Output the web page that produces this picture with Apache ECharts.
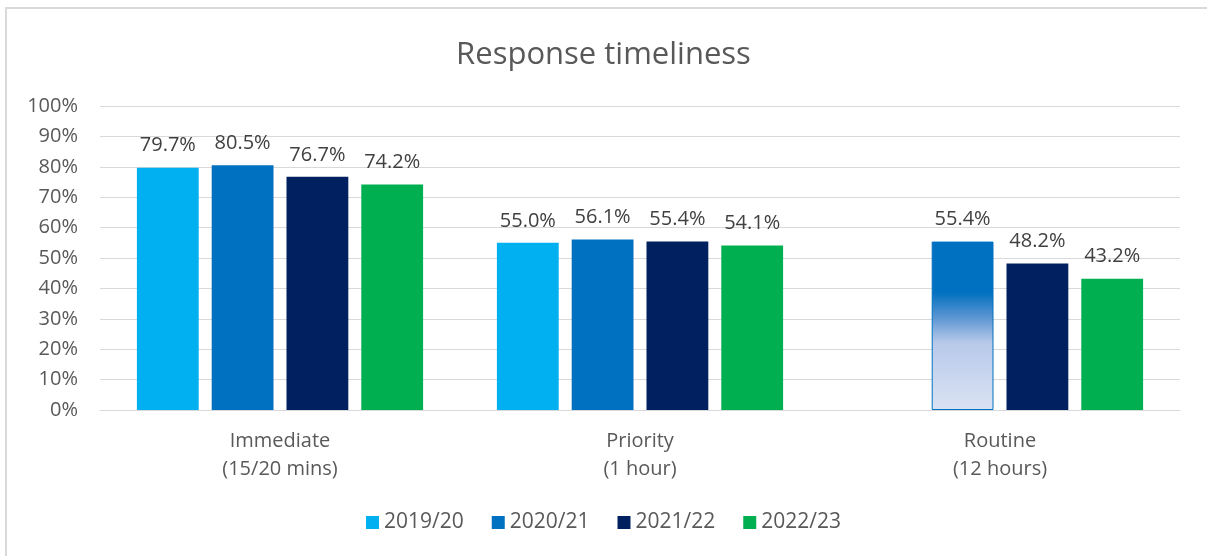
<!DOCTYPE html>
<html>
<head>
<meta charset="utf-8">
<script src="https://cdn.jsdelivr.net/npm/echarts@6/dist/echarts.min.js"></script>
<style>
  html, body { margin: 0; padding: 0; background: #fff; }
  #chart { width: 1207px; height: 556px; }
</style>
</head>
<body>
<div id="chart"></div>
<script>
var categories = ['Immediate\n(15/20 mins)', 'Priority\n(1 hour)', 'Routine\n(12 hours)'];
var years = ['2019/20', '2020/21', '2021/22', '2022/23'];
var colors = ['#00B0F0', '#0070C0', '#002060', '#00B050'];
var v2019 = [79.7, 55.0, null];
var v2020 = [80.5, 56.1, 55.4];
var v2021 = [76.7, 55.4, 48.2];
var v2022 = [74.2, 54.1, 43.2];

var chart = echarts.init(document.getElementById('chart'));
var font = 'Open Sans';

// Routine 2020/21 bar is drawn with a fade to white in the original
function withFade(arr) {
    return arr.map(function (v, i) {
        if (i !== 2) return v;
        return {
            value: v,
            itemStyle: {
                color: new echarts.graphic.LinearGradient(0, 0, 0, 1, [
                    { offset: 0, color: '#0070C0' },
                    { offset: 0.3, color: '#0070C0' },
                    { offset: 0.45, color: '#5B95D2' },
                    { offset: 0.6, color: '#B8C9EA' },
                    { offset: 1, color: '#DAE3F3' }
                ]),
                borderColor: '#0070C0',
                borderWidth: 1
            }
        };
    });
}

var seriesData = [v2019, withFade(v2020), v2021, v2022];

var series = years.map(function (y, i) {
    return {
        name: y,
        type: 'bar',
        data: seriesData[i],
        barGap: '21%',
        barCategoryGap: '20.5%',
        itemStyle: { color: colors[i] },
        label: {
            show: true,
            position: 'top',
            distance: 12,
            color: '#404040',
            fontFamily: font,
            fontSize: 20,
            formatter: function (p) { return p.value == null ? '' : p.value.toFixed(1) + '%'; }
        }
    };
});

var option = {
    backgroundColor: '#fff',
    animation: false,
    color: colors,
    title: {
        text: 'Response timeliness',
        left: 'center',
        top: 35,
        textStyle: { color: '#595959', fontFamily: font, fontSize: 31, fontWeight: 'normal' }
    },
    legend: {
        bottom: 18,
        left: 'center',
        itemWidth: 13,
        itemHeight: 13,
        itemGap: 28,
        icon: 'rect',
        textStyle: { color: '#595959', fontFamily: font, fontSize: 21 },
        data: years
    },
    grid: { left: 100, right: 27, top: 106, bottom: 146, containLabel: false },
    xAxis: {
        type: 'category',
        data: categories,
        axisLine: { lineStyle: { color: '#D9D9D9', width: 1 } },
        axisTick: { show: false },
        axisLabel: { color: '#595959', fontFamily: font, fontSize: 20, lineHeight: 28, margin: 17 }
    },
    yAxis: {
        type: 'value',
        min: 0,
        max: 100,
        interval: 10,
        axisLine: { show: false },
        axisTick: { show: false },
        splitLine: { lineStyle: { color: '#D9D9D9', width: 1 } },
        axisLabel: { color: '#595959', fontFamily: font, fontSize: 20, margin: 22, formatter: '{value}%' }
    },
    graphic: [{
        type: 'polyline',
        shape: { points: [[6, 556], [6, 8], [1207, 8]] },
        style: { stroke: '#D9D9D9', lineWidth: 2, fill: null },
        silent: true
    }],
    series: series
};

chart.setOption(option);
</script>
</body>
</html>
